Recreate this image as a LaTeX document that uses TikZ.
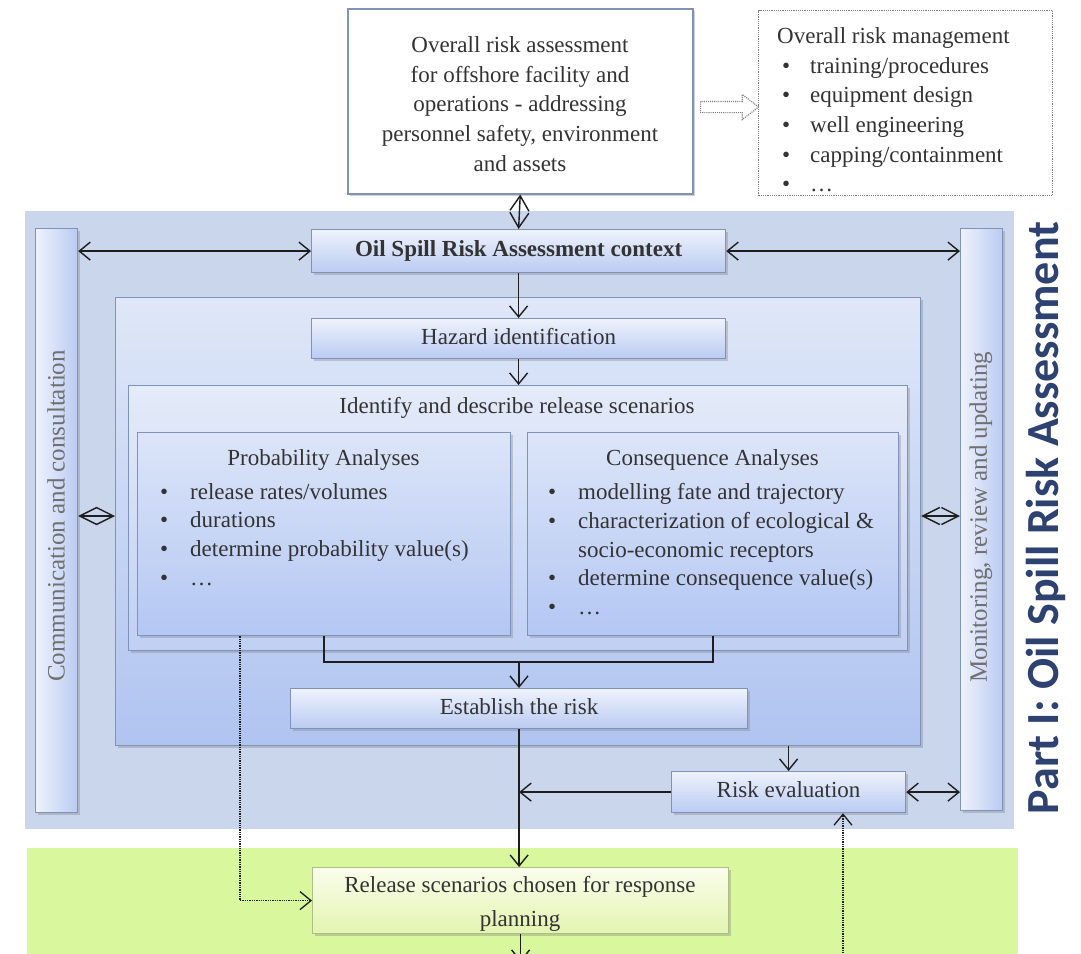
\documentclass[tikz,border=0pt]{standalone}
\usepackage{fontspec}
\setmainfont{Liberation Serif}
\newfontfamily\partfont{Carlito}
\usetikzlibrary{arrows.meta,shadows,shapes.arrows}
\definecolor{panelblue}{HTML}{C9D6EC}
\definecolor{greenpanel}{HTML}{D9F79C}
\definecolor{bord}{HTML}{7F92BC}
\definecolor{bxtop}{HTML}{EEF2FC}
\definecolor{bxbot}{HTML}{BACBF2}
\definecolor{intop}{HTML}{DFE7F8}
\definecolor{inbot}{HTML}{B0C4F0}
\definecolor{idtop}{HTML}{E4EBF9}
\definecolor{idbot}{HTML}{C0D0F4}
\definecolor{antop}{HTML}{DCE5F8}
\definecolor{anbot}{HTML}{B4C7F3}
\definecolor{reltop}{HTML}{FAFDEC}
\definecolor{relbot}{HTML}{E3F4B0}
\definecolor{relbord}{HTML}{AEBF86}
\definecolor{txt}{HTML}{333333}
\definecolor{bartxt}{HTML}{707070}
\definecolor{partcol}{HTML}{2E4272}
\definecolor{arr}{HTML}{1E1E1E}
\tikzset{
  basefont/.style={font=\fontsize{23}{29}\selectfont, text=txt},
  shadowed/.style={drop shadow={shadow xshift=2pt, shadow yshift=-2.5pt, opacity=0.35}},
  bluebox/.style={draw=bord, line width=1.2pt, top color=bxtop, bottom color=bxbot, shadowed,
    inner sep=0pt, text height=16pt, text depth=5pt, basefont, anchor=north west},
  innerbox/.style={draw=bord, line width=1.2pt, top color=intop, bottom color=inbot, shadowed, inner sep=0pt, anchor=north west},
  identbox/.style={draw=bord, line width=1.2pt, top color=idtop, bottom color=idbot, shadowed, inner sep=0pt, anchor=north west},
  anabox/.style={draw=bord, line width=1.2pt, top color=antop, bottom color=anbot, shadowed, inner sep=0pt, anchor=north west},
  barbox/.style={draw=bord, line width=1.2pt, left color=bxtop, right color=bxbot, shadowed, inner sep=0pt, anchor=north west},
  relbox/.style={draw=relbord, line width=1.2pt, top color=reltop, bottom color=relbot, shadowed,
    inner sep=0pt, anchor=north west},
  whitebox/.style={draw=bord, line width=1.5pt, fill=white, shadowed, inner sep=0pt, anchor=north west},
  dotbox/.style={draw=gray, densely dotted, line width=1.2pt, fill=white, inner sep=0pt, anchor=north west},
  label/.style={basefont, inner sep=0pt, text height=16pt, text depth=5pt},
  multilabel/.style={text=txt, inner sep=0pt, align=center},
  listtext/.style={font=\fontsize{23}{28.8}\selectfont, text=txt, inner sep=0pt, align=left, anchor=north west},
  bartext/.style={font=\fontsize{25}{29}\selectfont, text=bartxt, rotate=90, inner sep=0pt},
  plainline/.style={draw=arr, line width=1.4pt},
  onearrow/.style={plainline, -{Straight Barb[length=11pt,width=18pt]}},
  biarrow/.style={plainline, {Straight Barb[length=11pt,width=18pt]}-{Straight Barb[length=11pt,width=18pt]}},
  diamarrow/.style={plainline, {Straight Barb[length=17pt,width=17pt]}-{Straight Barb[length=17pt,width=17pt]}},
  vdiamarrow/.style={plainline, {Straight Barb[length=15pt,width=19pt]}-{Straight Barb[length=15pt,width=19pt]}},
  dotarrow/.style={draw=arr, line width=1.3pt, densely dotted, -{Straight Barb[length=11pt,width=18pt]}},
}
\begin{document}
\begin{tikzpicture}[x=1pt,y=-1pt]
\useasboundingbox (0,0) rectangle (1081,953);
\clip (0,0) rectangle (1081,953);
\fill[white] (0,0) rectangle (1081,953);

% background panels
\fill[panelblue] (25,211) rectangle (1014,829);
\fill[greenpanel] (27,848) rectangle (1018,960);

% top boxes
\node[whitebox, minimum width=345pt, minimum height=185pt] (top) at (347,8) {};
\node[multilabel, font=\fontsize{23}{29.6}\selectfont] (topt) at (520,104)
  {Overall risk assessment\\for offshore facility and\\operations - addressing\\personnel safety, environment\\and assets};
\node[dotbox, minimum width=294pt, minimum height=185pt] (mgmt) at (758,10) {};
\node[listtext, font=\fontsize{23}{29.6}\selectfont] (mgmtt) at (777,27.5)
  {Overall risk management\\
   \hspace*{5pt}\makebox[28pt][l]{•}training/procedures\\
   \hspace*{5pt}\makebox[28pt][l]{•}equipment design\\
   \hspace*{5pt}\makebox[28pt][l]{•}well engineering\\
   \hspace*{5pt}\makebox[28pt][l]{•}capping/containment\\
   \hspace*{5pt}\makebox[28pt][l]{•}…};
\node[single arrow, draw=gray, densely dotted, line width=1.1pt, fill=white,
  minimum height=58pt, single arrow head extend=7pt,
  single arrow tip angle=75, inner sep=0pt] (fat) at (726,107) {\rule{0pt}{10pt}};

% inner structure
\node[innerbox, minimum width=805pt, minimum height=448pt] (inner) at (115,297) {};
\node[identbox, minimum width=779pt, minimum height=265pt] (idf) at (128,385) {};
\node[label] (idft) at (517,408) {Identify and describe release scenarios};
\node[anabox, minimum width=373pt, minimum height=203pt] (prob) at (137,432) {};
\node[anabox, minimum width=371pt, minimum height=203pt] (cons) at (527,432) {};
\node[label] (probt) at (323.5,460) {Probability Analyses};
\node[label] (const) at (712.5,460) {Consequence Analyses};
\node[listtext] (probl) at (160,483)
  {\makebox[30pt][l]{•}release rates/volumes\\
   \makebox[30pt][l]{•}durations\\
   \makebox[30pt][l]{•}determine probability value(s)\\
   \makebox[30pt][l]{•}…};
\node[listtext] (consl) at (548,483)
  {\makebox[30pt][l]{•}modelling fate and trajectory\\
   \makebox[30pt][l]{•}characterization of ecological \&\\
   \makebox[30pt][l]{}socio-economic receptors\\
   \makebox[30pt][l]{•}determine consequence value(s)\\
   \makebox[30pt][l]{•}…};

\node[bluebox, minimum width=414pt, minimum height=43pt, font=\fontsize{23}{29}\selectfont\bfseries] (ctx) at (311,229) {Oil Spill Risk Assessment context};
\node[bluebox, minimum width=414pt, minimum height=40pt] (haz) at (311,318) {Hazard identification};
\node[bluebox, minimum width=457pt, minimum height=40pt] (est) at (290,688) {Establish the risk};
\node[bluebox, minimum width=234pt, minimum height=41pt] (reval) at (671,771) {Risk evaluation};

% side bars
\node[barbox, minimum width=42pt, minimum height=584pt] (lbar) at (35,228) {};
\node[barbox, minimum width=42pt, minimum height=582pt] (rbar) at (960,228) {};
\node[bartext] (lbart) at (56,516) {Communication and consultation};
\node[bartext] (rbart) at (981,517) {Monitoring, review and updating};

% release box
\node[relbox, minimum width=416pt, minimum height=66pt] (rel) at (312,867) {};
\node[multilabel, font=\fontsize{23}{34}\selectfont] (relt) at (520,904)
  {Release scenarios chosen for response\\planning};

% Part I label
\node[rotate=90, anchor=base, inner sep=0pt, text=partcol,
  font=\partfont\fontsize{46}{52}\selectfont\bfseries] (part) at (1058,518)
  {Part I: Oil Spill Risk Assessment};

% connectors
\draw[vdiamarrow] (top.south) -- (ctx.north);
\draw[biarrow] (ctx.west) -- (ctx.west -| lbar.east);
\draw[biarrow] (ctx.east) -- (ctx.east -| rbar.west);
\draw[onearrow] (ctx.south) -- (haz.north);
\draw[onearrow] (haz.south) -- (haz.south |- idf.north);
\coordinate (brk) at (519,662);
\draw[plainline] (prob.south) |- (brk) -| (cons.south);
\draw[onearrow] (brk) -- (brk |- est.north);
\coordinate (lvl) at (0,516);
\draw[diamarrow] (lbar.east |- lvl) -- (inner.west |- lvl);
\draw[diamarrow] (inner.east |- lvl) -- (rbar.west |- lvl);
\draw[onearrow] (est.south) -- (est.south |- rel.north);
\draw[onearrow] (inner.south -| reval.north) -- (reval.north);
\draw[onearrow] (reval.west) -- (reval.west -| est.south);
\draw[biarrow] (reval.east) -- (reval.east -| rbar.west);
\coordinate (dx) at (240,0);
\draw[dotarrow] (prob.south -| dx) |- (rel.west);
\coordinate (evalin) at (843,960);
\draw[dotarrow] (evalin) -- (evalin |- reval.south);
\coordinate (relout) at (518,962);
\draw[onearrow] (rel.south) -- (rel.south |- relout);
\end{tikzpicture}
\end{document}
